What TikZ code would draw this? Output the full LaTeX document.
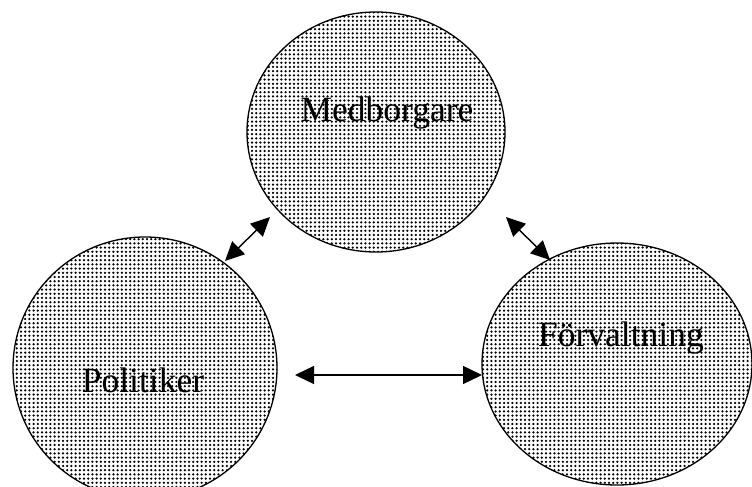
\documentclass[tikz,border=0pt]{standalone}
\usepackage{fontspec}
\setmainfont{Liberation Serif}
\usetikzlibrary{shapes.geometric,arrows.meta,patterns}

% fine square grid of dots used as the halftone fill
\pgfdeclarepatternformonly{halftone}{\pgfpoint{-1.4pt}{-1.4pt}}{\pgfpoint{1.4pt}{1.4pt}}{\pgfpoint{4.2pt}{4.2pt}}{%
  \pgfpathcircle{\pgfpointorigin}{1.25pt}\pgfusepath{fill}}

\tikzset{
  actor/.style={ellipse, draw=black, line width=1.3pt, inner sep=0pt,
    pattern=halftone, pattern color=black},
  actorname/.style={font=\fontsize{35.5}{40}\selectfont, inner sep=0pt},
  link/.style={{Triangle[length=19pt,width=18pt]}-{Triangle[length=19pt,width=18pt]},
    line width=1.4pt}
}

\begin{document}
\begin{tikzpicture}[x=1pt,y=-1pt]
  \useasboundingbox (0,0) rectangle (752,487);
  \clip (0,0) rectangle (752,487);

  % the three actors
  \node[actor, minimum width=258pt, minimum height=240pt] (med) at (376,132) {};
  \node[actor, minimum width=264pt, minimum height=262pt] (pol) at (145,368) {};
  \node[actor, minimum width=270pt, minimum height=242pt] (forv) at (617,364) {};

  \node[actorname] (medtxt) at (387,113) {Medborgare};
  \node[actorname] (poltxt) at (143,380) {Politiker};
  \node[actorname] (forvtxt) at (621,338) {Förvaltning};

  % arrow end points beside the ellipses
  \coordinate (mp1) at (270,217);
  \coordinate (mp2) at (225,261);
  \coordinate (mf1) at (506,217);
  \coordinate (mf2) at (550,260);
  \coordinate (pf1) at (295,375);
  \coordinate (pf2) at (482,375);

  \draw[link] (mp2) -- (mp1);
  \draw[link] (mf1) -- (mf2);
  \draw[link] (pf1) -- (pf2);
\end{tikzpicture}
\end{document}
